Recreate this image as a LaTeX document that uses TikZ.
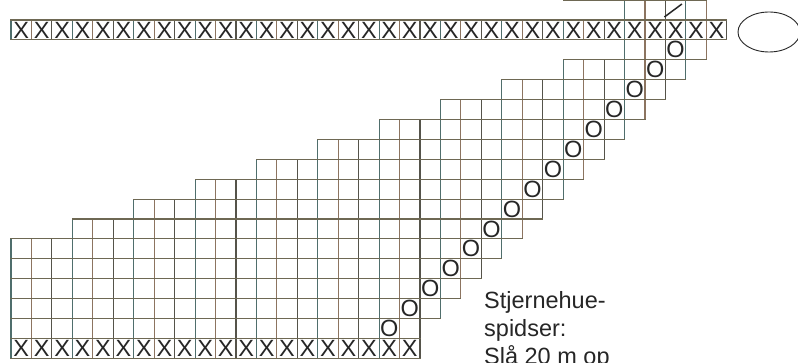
\documentclass[tikz,border=0pt]{standalone}
\usepackage{fontspec}
\setmainfont{Liberation Sans}
\definecolor{hcol}{HTML}{6E6853}
\definecolor{vcol0}{HTML}{4F6E6C}
\definecolor{vcol1}{HTML}{8C7460}
\definecolor{vcol2}{HTML}{55534A}
\definecolor{ink}{HTML}{262626}
\begin{document}
\begin{tikzpicture}[x=1pt,y=-1pt,
  gridline/.style={line width=1.1pt, line cap=rect},
  sym/.style={font=\fontsize{23.5}{24}\selectfont, text=ink, inner sep=0pt},
  note/.style={font=\fontsize{23.5}{28}\selectfont, text=ink, inner sep=0pt, anchor=base west}]
\useasboundingbox (0,0) rectangle (798,363);
\clip (0,0) rectangle (798,363);
\def\cw{20.45}\def\xo{11}\def\rh{19.9}\def\yo{358.3}
% grid rows: row / first column / last column
\foreach \r/\L/\R in {1/1/20,2/1/20,3/1/21,4/1/22,5/1/23,6/1/24,7/4/25,8/7/26,9/10/27,10/13/28,11/16/29,12/19/30,13/22/31,14/25/32,15/28/33,16/31/34,17/1/35,18/31/34}{
  \pgfmathsetmacro\yb{\yo-\rh*(\r-1)}
  \pgfmathsetmacro\yt{\yo-\rh*\r}
  \pgfmathsetmacro\xl{\xo+\cw*(\L-1)}
  \pgfmathsetmacro\xr{\xo+\cw*\R}
  \pgfmathtruncatemacro\Lm{\L-1}
  \foreach \j in {\Lm,...,\R}{
    \pgfmathtruncatemacro\m{mod(\j,3)}
    \pgfmathsetmacro\xx{\xo+\cw*\j}
    \draw[gridline,draw=vcol\m] (\xx,\yb) -- (\xx,\yt);
  }
  \draw[gridline,hcol] (\xl,\yb) -- (\xr,\yb) (\xl,\yt) -- (\xr,\yt);
}
% top edge continuing above row 18
\draw[gridline,hcol] ({\xo+\cw*27},{\yo-\rh*18}) -- ({\xo+\cw*34},{\yo-\rh*18});
% X symbols bottom row
\foreach \c in {1,...,20}{
  \node[sym] (xb\c) at ({\xo+\cw*(\c-0.5)},{\yo-\rh*0.5}) {X};
}
% X symbols top row
\foreach \c in {1,...,35}{
  \node[sym] (xt\c) at ({\xo+\cw*(\c-0.5)},{\yo-\rh*16.5}) {X};
}
% O symbols on the diagonal
\foreach \r in {2,...,16}{
  \pgfmathtruncatemacro\cc{\r+17}
  \node[sym] (o\r) at ({\xo+\cw*(\cc-0.5)},{\yo-\rh*(\r-0.5)}) {O};
}
% slash symbol
\draw[ink, line width=1.5pt] ({\xo+\cw*32-1},17) -- ({\xo+\cw*32+16.5},4);
% ellipse
\draw[ink, line width=0.9pt] (769,32) ellipse [x radius=31pt, y radius=20pt];
% notes
\node[note] (t1) at (484,308.3) {Stjernehue-};
\node[note] (t2) at (484,336.6) {spidser:};
\node[note] (t3) at (484,364.9) {Slå 20 m op};
\end{tikzpicture}
\end{document}
